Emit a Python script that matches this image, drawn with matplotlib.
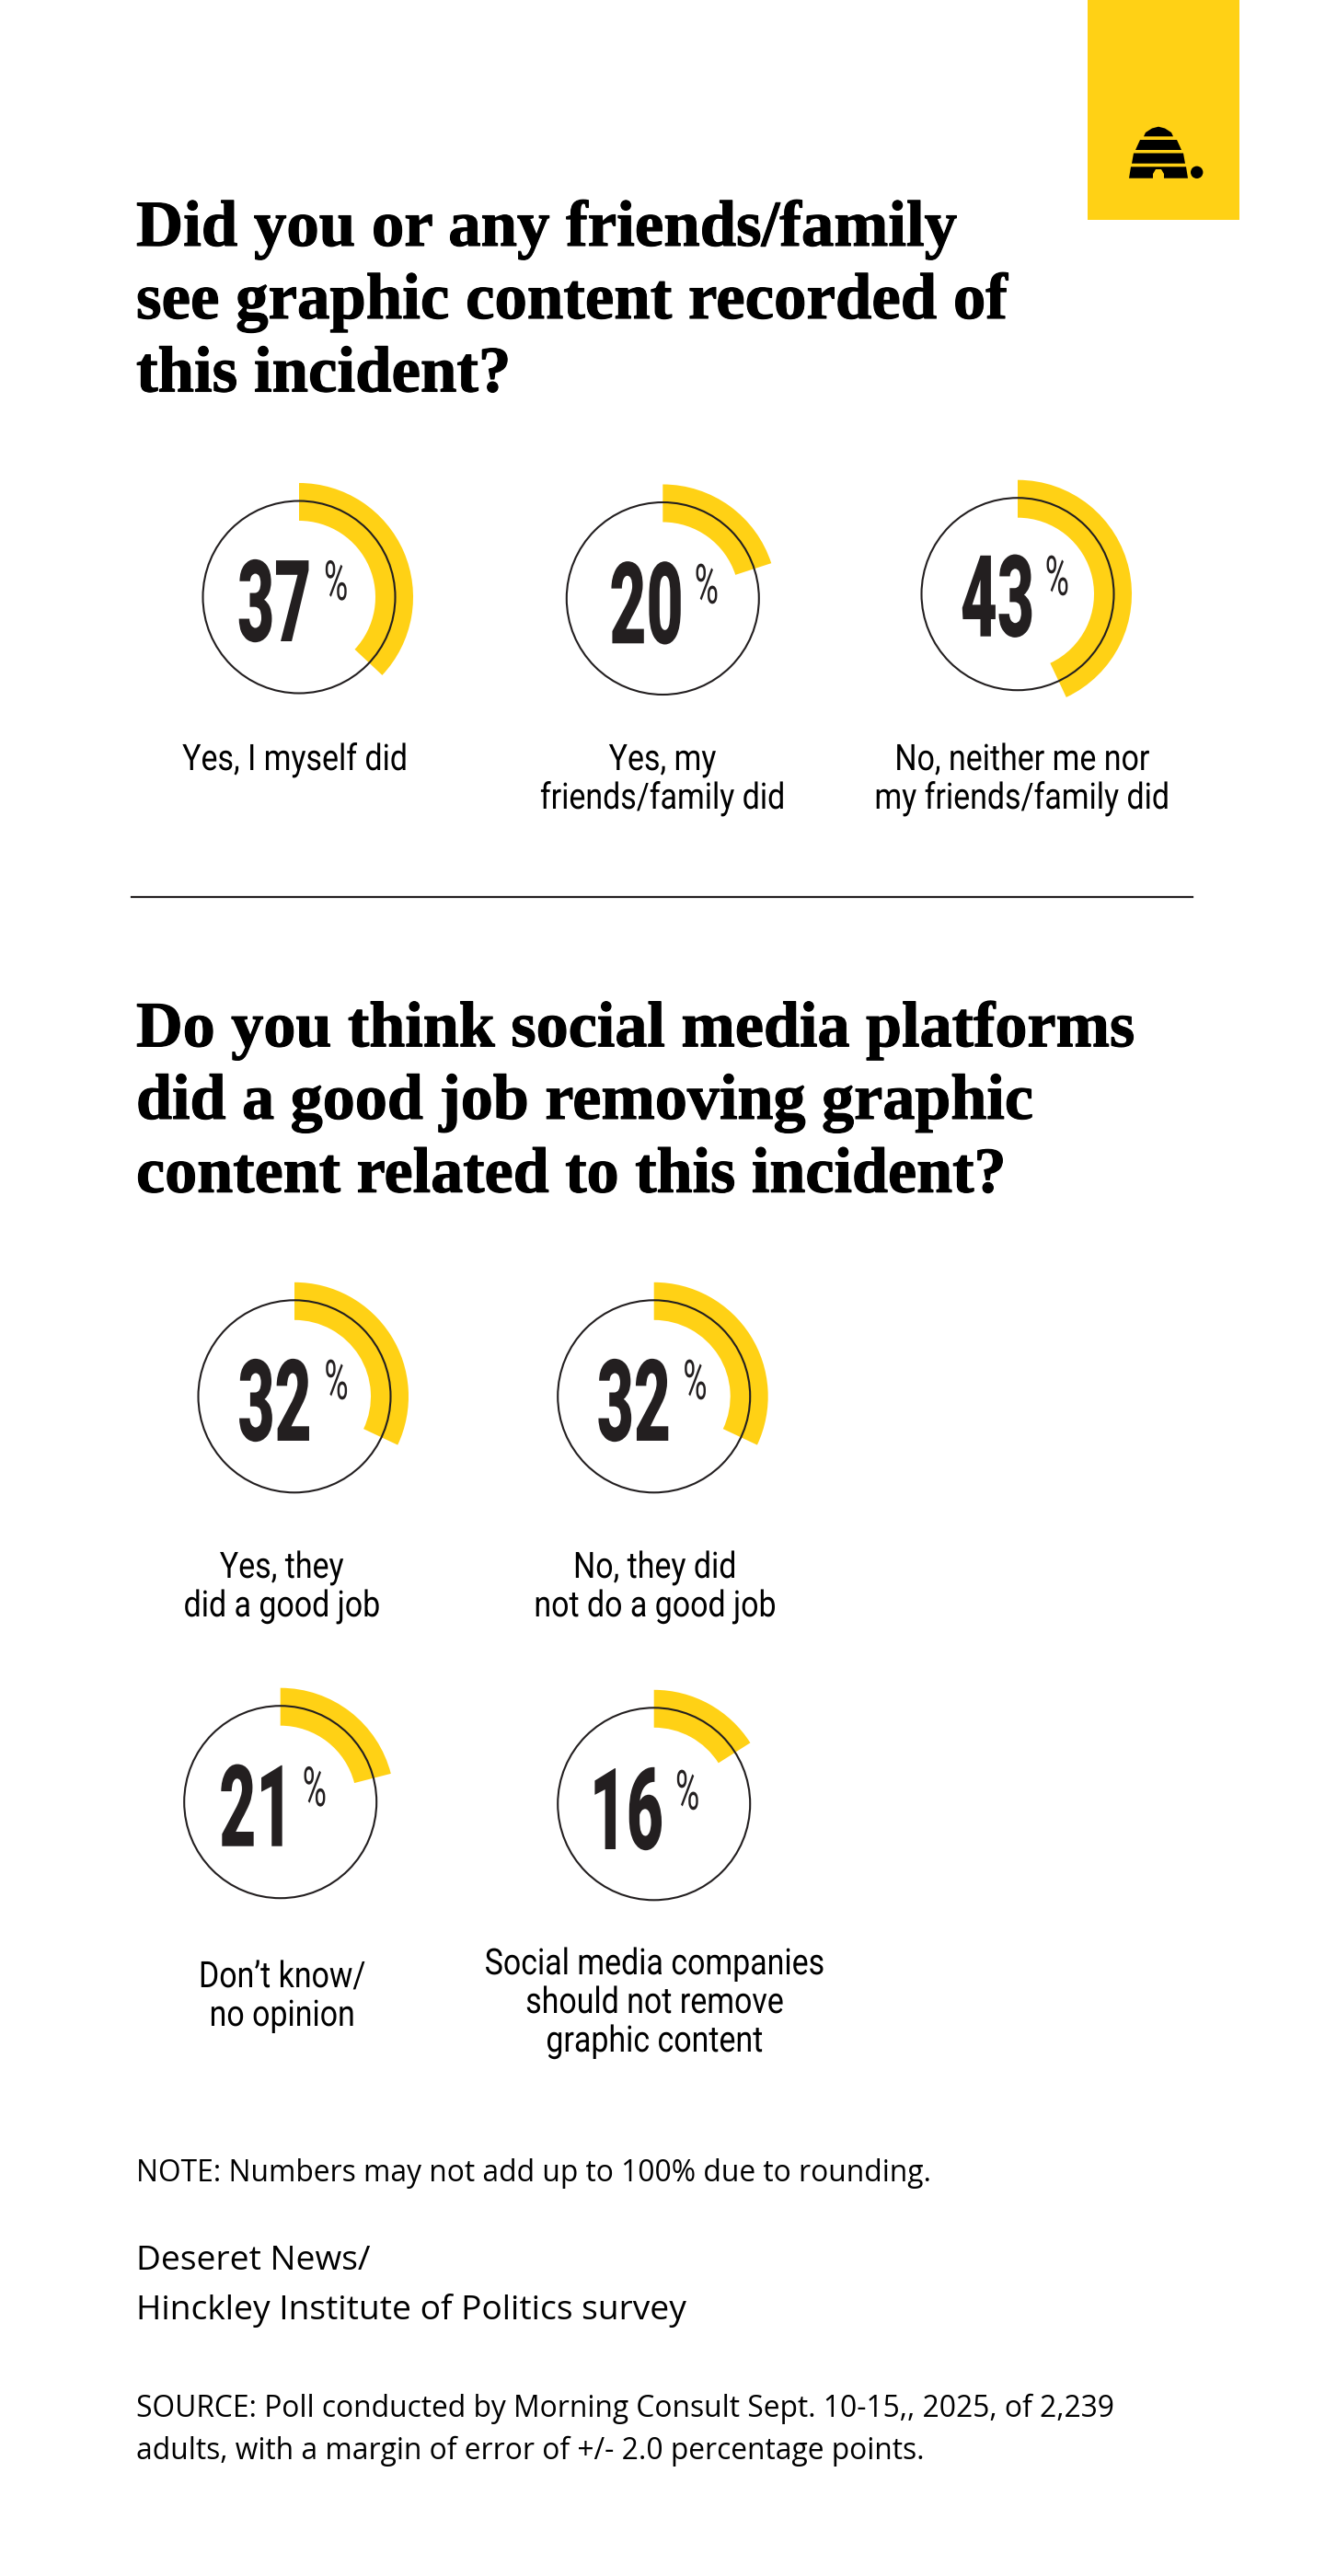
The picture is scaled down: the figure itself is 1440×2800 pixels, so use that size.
import matplotlib
matplotlib.use("Agg")
import matplotlib.pyplot as plt
from matplotlib.patches import Circle, Polygon, Rectangle
from matplotlib.patheffects import AbstractPathEffect, withStroke
from matplotlib.transforms import Affine2D

YELLOW = "#FFD115"
INK = "#231F20"

# survey numbers
values_top = [37, 20, 43]
labels_top = ["Yes, I myself did", "Yes, my\nfriends/family did", "No, neither me nor\nmy friends/family did"]
values_bottom = [32, 32, 21, 16]
labels_bottom = ["Yes, they\ndid a good job", "No, they did\nnot do a good job", "Don\u2019t know/\nno opinion",
                 "Social media companies\nshould not remove\ngraphic content"]

title_top = ["Did you or any friends/family", "see graphic content recorded of", "this incident?"]
title_bottom = ["Do you think social media platforms", "did a good job removing graphic",
                "content related to this incident?"]

# layout, in pixels of the 1440x2800 picture
centers = [(325, 649), (720.3, 650.5), (1106, 645.7), (320, 1517.8), (710.7, 1517.8), (304.7, 1958.7), (710.7, 1960.8)]
num_right = [338.3, 742.7, 1124, 338.7, 729, 318.5, 721]
num_base = [697, 699.3, 691.7, 1566, 1566, 2006.7, 2010]
pct_left = [352, 754.7, 1135.7, 352.4, 742.3, 328.7, 734]
pct_base = [652, 655.7, 646.7, 1520.7, 1520.7, 1963, 1966.7]
label_x = [320.5, 720, 1110.6, 306.2, 711.6, 306.5, 711.2]
label_y = [837, 837, 837, 1715, 1715, 2160, 2146]
title_y_top = [267, 346, 425.5]
title_y_bottom = [1137.3, 1216, 1295.7]

R_OUT = 124
R_IN = 83
R_LINE = 104.5
LABEL_STEP = 42


class Squeeze(AbstractPathEffect):
    # narrows a text around x0, the installed fonts are too wide for these labels
    def __init__(self, sx, x0):
        super().__init__()
        self.sx = sx
        self.x0 = x0

    def draw_path(self, renderer, gc, tpath, affine, rgbFace=None):
        squeeze = Affine2D().translate(-self.x0, 0).scale(self.sx, 1).translate(self.x0, 0)
        renderer.draw_path(gc, tpath, affine + squeeze, rgbFace)


fig = plt.figure(figsize=(14.4, 28), dpi=100)
ax = fig.add_axes([0, 0, 1, 1])
ax.set_xlim(0, 1440)
ax.set_ylim(2800, 0)

# logo
ax.add_patch(Rectangle((1182, 0), 165, 239, color=YELLOW, lw=0))
hive = [
    [(1243, 148.3), (1245, 144), (1252, 139.5), (1259, 137.7), (1266, 139.5), (1273, 144), (1275, 148.3)],
    [(1234, 163), (1239, 152), (1279, 152), (1284, 163)],
    [(1230, 177.7), (1232, 166.5), (1286, 166.5), (1288, 177.7)],
    [(1227, 193.7), (1229, 181.3), (1289, 181.3), (1291, 193.7), (1265, 193.7), (1265, 189), (1262, 184), (1256, 184), (1253, 189), (1253, 193.7)],
]
for shape in hive:
    ax.add_patch(Polygon(shape, closed=True, color="black", lw=0))
ax.add_patch(Circle((1300.7, 187.3), 6.7, color="black", lw=0))

heavy = [withStroke(linewidth=0.8, foreground="black")]
for line, y in zip(title_top, title_y_top):
    ax.text(148, y, line, family="Liberation Serif", weight="bold", fontsize=51, color="black",
            va="baseline", ha="left", path_effects=heavy)
for line, y in zip(title_bottom, title_y_bottom):
    ax.text(148, y, line, family="Liberation Serif", weight="bold", fontsize=50.5, color="black",
            va="baseline", ha="left", path_effects=heavy)
ax.plot([143, 1296], [975, 975], color=INK, lw=1.6)

values = values_top + values_bottom
labels = labels_top + labels_bottom
for i, v in enumerate(values):
    ax.pie([v, 100 - v], center=centers[i], radius=R_OUT, startangle=-90, colors=[YELLOW, "none"],
           wedgeprops=dict(width=R_OUT - R_IN, lw=0), frame=True)
    ax.add_patch(Circle(centers[i], R_LINE, fill=False, ec=INK, lw=1.5))
    ax.text(num_right[i], num_base[i], str(v), family="Roboto", weight=900, fontsize=89, color=INK,
            ha="right", va="baseline", path_effects=[Squeeze(0.56, num_right[i])])
    ax.text(pct_left[i], pct_base[i], "%", family="Roboto", fontsize=43, color=INK,
            ha="left", va="baseline", path_effects=[Squeeze(0.6, pct_left[i])])
    for k, line in enumerate(labels[i].split("\n")):
        ax.text(label_x[i], label_y[i] + k * LABEL_STEP, line, family="Roboto", fontsize=28.4, color="black",
                ha="center", va="baseline", path_effects=[Squeeze(0.86, label_x[i])])

ax.text(148, 2371, "NOTE: Numbers may not add up to 100% due to rounding.", family="Open Sans", fontsize=22.9,
        color="black", va="baseline")
ax.text(148, 2467, "Deseret News/", family="Open Sans", fontsize=26.7, color="black", va="baseline")
ax.text(148, 2521, "Hinckley Institute of Politics survey", family="Open Sans", fontsize=26.7, color="black", va="baseline")
ax.text(148, 2627, "SOURCE: Poll conducted by Morning Consult Sept. 10-15,, 2025, of 2,239", family="Open Sans",
        fontsize=22.9, color="black", va="baseline")
ax.text(148, 2673, "adults, with a margin of error of +/- 2.0 percentage points.", family="Open Sans", fontsize=22.9,
        color="black", va="baseline")

ax.set_xlim(0, 1440)
ax.set_ylim(2800, 0)
ax.axis("off")
fig.savefig("out.png", dpi=100, facecolor="white")
